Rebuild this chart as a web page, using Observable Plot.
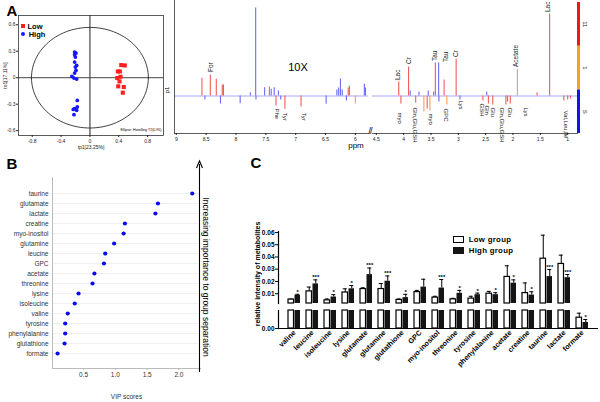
<!DOCTYPE html>
<html><head><meta charset="utf-8">
<script src="https://cdn.jsdelivr.net/npm/d3@7"></script>
<script src="https://cdn.jsdelivr.net/npm/@observablehq/plot@0.6"></script>
<style>
html,body{margin:0;padding:0;background:#fff;}
#root{position:relative;width:600px;height:402px;overflow:hidden;font-family:"Liberation Sans",Arial,sans-serif;}
#root svg{overflow:visible;}
.t{position:absolute;white-space:nowrap;line-height:1;color:#000;}
</style></head><body><div id="root"></div>
<script>
// ---------- Panel A: OPLS-DA scores ----------
const lowT1  = [0.434,0.484,0.387,0.415,0.379,0.424,0.410,0.470,0.392,0.456];
const lowTo  = [0.143,0.139,0.071,0.071,-0.004,0.011,-0.042,-0.106,-0.098,-0.170];
const highT1 = [-0.212,-0.193,-0.212,-0.202,-0.212,-0.184,-0.202,-0.193,-0.212,-0.249,-0.221,-0.184,-0.175,-0.175,-0.212,-0.230,-0.184,-0.221];
const highTo = [0.290,0.279,0.260,0.234,0.177,0.139,0.120,0.082,0.052,0.015,-0.004,-0.016,-0.257,-0.332,-0.351,-0.359,-0.370,-0.419];
const t1Ticks = [-0.8,-0.4,0,0.4,0.8];
const toTicks = [-0.6,-0.3,0,0.3,0.6];
const scoreOrigin = [0];
const ellipseRadii = [0.81, 0.57];

// ---------- Panel A: loadings spectrum ----------
const corrLevels = ["lo","lav","mid","hi"];
const specLeftPpm  = [8.57,8.52,8.43,8.33,8.26,8.23,8.21,7.93,7.76,7.67,7.665,7.52,7.44,7.41,7.36,7.33,7.29,7.25,7.18,6.91,6.49,6.31,6.28,6.25,6.22,6.15,6.12,6.10,6.0,5.85,5.83];
const specLeftInt  = [17.7,-4,21,16.7,-8,11,11,-7.7,3.3,88,-4,8.3,9,6.7,8.3,-10,5,-4,-13.3,-11,-8.3,6,8,17,6,-5,8,10,-8,11.7,8];
const specLeftCorr = ["hi","lo","hi","hi","lo","hi","hi","lo","lo","lo","lo","lo","hi","lo","lo","hi","lo","lo","hi","hi","lo","lo","lo","lo","lo","lo","hi","hi","mid","lo","lo"];
const specRightPpm  = [4.09,4.05,3.91,3.88,3.78,3.72,3.63,3.57,3.55,3.52,3.45,3.42,3.36,3.355,3.26,3.21,3.04,2.97,2.55,2.48,2.45,2.37,2.13,2.10,2.05,1.92,1.56,1.33,1.07,1.00,0.95];
const specRightInt  = [14,-8,29,5,-7,4,-16,-13,5,-15,4,33,33,-6,16,-9,37,-4,-5,4,-8,-9,-9,-6,-8,26.7,3,82,-5,-4,-3];
const specRightCorr = ["hi","hi","hi","lo","hi","lo","mid","hi","lo","mid","lo","hi","lo","lo","hi","mid","hi","lo","hi","lo","hi","hi","hi","hi","hi","lav","hi","hi","hi","hi","hi"];
const specBaseline = [0];
const upLabPpm  = [8.42,4.10,3.91,3.42,3.22,3.04,1.94,1.37];
const upLabText = ["For","Lac","Cr","Tau","Tau","Cr","Acetate","Lac"];
const upLabH    = [24,16,32,35,34,39,29,84];
const downLabPpm  = [7.32,7.18,6.87,4.06,3.79,3.51,3.22,2.96,2.57,2.48,2.36,2.20,2.05,1.76,1.04];
const downLabText = ["Phe","Tyr","Tyr","myo","Gln,Glu,GSH","myo","GPC","Lys","GSH","Gln","Glu","Gln,Glu,GSH","Glu","Lys","Val,Leu,Ile"];
const downLabH    = [-12.5,-16.5,-16.5,-16.5,-11.5,-17.5,-12.5,-4.5,-7.5,-9.5,-11.5,-11.5,-11.5,-11.5,-14.5];
const leftTicks  = [9,8.5,8,7.5,7,6.5,6];
const rightTicks = [4.5,4,3.5,3,2.5,2,1.5,1];
const cbarLevels = ["lo","mid","hi"];
const cbarLabels = ["S","1","11"];

// ---------- Panel B: VIP ----------
const vipNames  = ["taurine","glutamate","lactate","creatine","myo-inositol","glutamine","leucine","GPC","acetate","threonine","lysine","isoleucine","valine","tyrosine","phenylalanine","glutathione","formate"];
const vipScores = [2.21,1.67,1.63,1.15,1.13,0.98,0.84,0.82,0.67,0.64,0.42,0.36,0.25,0.21,0.21,0.20,0.09];
const vipTicks  = [0.5,1.0,1.5,2.0];

// ---------- Panel C: relative intensities ----------
const cNames   = ["valine","leucine","isoleucine","lysine","glutamate","glutamine","glutathione","GPC","myo-inositol","threonine","tyrosine","phenylalanine","acetate","creatine","taurine","lactate","formate"];
const lowMean  = [0.0052,0.0119,0.0046,0.0110,0.0138,0.0138,0.0049,0.0113,0.0068,0.0054,0.0060,0.0100,0.0237,0.0105,0.0386,0.0343,0.0012];
const lowSD    = [0.0004,0.0035,0.0011,0.0030,0.0010,0.0045,0.0008,0.0014,0.0011,0.0008,0.0019,0.0019,0.0091,0.0083,0.0192,0.0072,0.0005];
const highMean = [0.0087,0.0180,0.0073,0.0140,0.0256,0.0202,0.0068,0.0154,0.0146,0.0103,0.0092,0.0092,0.0186,0.0089,0.0240,0.0231,0.00067];
const highSD   = [0.0008,0.0033,0.0019,0.0027,0.0054,0.0043,0.0027,0.0064,0.0070,0.0024,0.0013,0.0016,0.0027,0.0027,0.0058,0.0026,0.00033];
const sig      = ["*","***","*","*","***","***","*","","***","*","*","*","*","*","***","***","*"];
const cUpperDomain = [0.002, 0.0608];
const cLowerDomain = [0, 0.002];
const cUpperTicks = [0.01,0.02,0.03,0.04,0.05,0.06];
const cLowerTicks = [0];
const cBase = [0];

// ---------- helpers ----------
const FONT = '"Liberation Sans", Arial, Helvetica, sans-serif';
const root = document.getElementById("root");
function put(node, left, top){ node.style.position="absolute"; node.style.left=left+"px"; node.style.top=top+"px"; root.appendChild(node); return node; }
function txt(text, cx, cy, css, rot){
  const d=document.createElement("div"); d.className="t"; d.textContent=text;
  Object.assign(d.style, css||{});
  d.style.left=cx+"px"; d.style.top=cy+"px";
  d.style.transform="translate(-50%,-50%)"+(rot?` rotate(${rot}deg)`:"");
  root.appendChild(d); return d;
}
const corrColors = ["#6b6bf6","#a7a1e4","#f5a24a","#f15b5b"];

// ---------- A: scores plot ----------
const pcaLow  = lowT1.map((x,i)=>({x, y: lowTo[i]}));
const pcaHigh = highT1.map((x,i)=>({x, y: highTo[i]}));
const ellipse = d3.range(0, 361, 3).map(a => ({x: ellipseRadii[0]*Math.cos(a*Math.PI/180), y: ellipseRadii[1]*Math.sin(a*Math.PI/180)}));
put(Plot.plot({
  width:170, height:150, marginLeft:18, marginRight:7, marginTop:15, marginBottom:15,
  style:{background:"transparent", fontFamily:FONT, fontSize:"5px", color:"#222", overflow:"visible"},
  x:{domain:[-0.99,1.02]},
  y:{domain:[-0.655,0.705]},
  marks:[
    Plot.ruleX(scoreOrigin, {stroke:"#555", strokeWidth:1.3}),
    Plot.ruleY(scoreOrigin, {stroke:"#444", strokeWidth:1}),
    Plot.line(ellipse, {x:"x", y:"y", stroke:"#111", strokeWidth:0.8}),
    Plot.dot(pcaHigh, {x:"x", y:"y", r:1.9, fill:"#1717ff"}),
    Plot.dot(pcaLow, {x:"x", y:"y", r:2.3, symbol:"square", fill:"#ff1f1f"}),
    Plot.frame({stroke:"#333", strokeWidth:0.8}),
    Plot.axisX({ticks:t1Ticks, tickFormat:d=>String(d), tickSize:2, tickPadding:1.5, label:"tp1[23.25%]", labelAnchor:"center", labelOffset:13, labelArrow:"none"}),
    Plot.axisY({ticks:toTicks, tickFormat:d=>String(d), tickSize:2, tickPadding:1, label:"to1[17.11%]", labelAnchor:"center", labelOffset:15, labelArrow:"none"})
  ]
}), 0, 0);

// ---------- A: spectrum ----------
function specPlot(ppm, ints, corr, ticks, xdomain, width, mLeft, showLeft){
  const peaks = ppm.map((p,i)=>({ppm:p, h:ints[i], corr:corr[i]}));
  const inRange = p => p <= xdomain[0] && p >= xdomain[1];
  const ups = upLabPpm.map((p,i)=>({ppm:p, h:upLabH[i], t:upLabText[i]})).filter(d=>inRange(d.ppm));
  const downs = downLabPpm.map((p,i)=>({ppm:p, h:downLabH[i], t:downLabText[i]})).filter(d=>inRange(d.ppm));
  const marks = [
    Plot.ruleY(specBaseline, {stroke:"#9393f5", strokeWidth:0.8}),
    Plot.ruleX(peaks, {x:"ppm", y1:0, y2:"h", stroke:"corr", strokeWidth:1.1}),
    Plot.text(ups, {x:"ppm", y:"h", text:"t", rotate:-90, textAnchor:"start", fontSize:6.5, fill:"#222"}),
    Plot.text(downs, {x:"ppm", y:"h", text:"t", rotate:90, textAnchor:"start", fontSize:6, fill:"#222"}),
    Plot.frame({anchor:"bottom", stroke:"#333", strokeWidth:0.8}),
    Plot.axisX({ticks, tickFormat:d=>String(d), tickSize:2, tickPadding:1.5, label:null})
  ];
  if (showLeft) marks.push(Plot.frame({anchor:"left", stroke:"#333", strokeWidth:0.8}));
  return Plot.plot({
    width, height:150, marginLeft:mLeft, marginRight:0, marginTop:0, marginBottom:17,
    style:{background:"transparent", fontFamily:FONT, fontSize:"5px", color:"#222", overflow:"visible"},
    x:{domain:xdomain},
    y:{domain:[-37.5,95.5], axis:null},
    color:{domain:corrLevels, range:corrColors},
    marks
  });
}
put(specPlot(specLeftPpm, specLeftInt, specLeftCorr, leftTicks, [9.03,5.78], 208, 14, true), 160, 0);
put(specPlot(specRightPpm, specRightInt, specRightCorr, rightTicks, [4.57,0.82], 209, 4, false), 368, 0);

// colour bar
const cbar = cbarLevels.map((l,i)=>({l, lo:i, hi:i+1, lab:cbarLabels[i]}));
put(Plot.plot({
  width:26, height:140, marginLeft:5, marginRight:18, marginTop:2, marginBottom:7,
  style:{background:"transparent", fontFamily:FONT, fontSize:"6px", color:"#222", overflow:"visible"},
  x:{domain:[0,1], axis:null}, y:{domain:[0,3], axis:null},
  color:{domain:cbarLevels, range:["#1212f2","#f7a21e","#f31616"]},
  marks:[
    Plot.rect(cbar, {x1:0, x2:1, y1:"lo", y2:"hi", fill:"l"}),
    Plot.text(cbar, {x:1, y:d=>(d.lo+d.hi)/2, text:"lab", rotate:90, dx:4, fontSize:6})
  ]
}), 572, 0);

// ---------- B: VIP ----------
const vip = vipNames.map((name,i)=>({name, score:vipScores[i]}));
put(Plot.plot({
  width:215, height:232, marginLeft:52, marginRight:15, marginTop:7, marginBottom:34,
  style:{background:"transparent", fontFamily:FONT, fontSize:"6.5px", color:"#333", overflow:"visible"},
  x:{domain:[0.01,2.34]},
  y:{type:"point", domain:vipNames, padding:0.93},
  marks:[
    Plot.gridY({stroke:"#e4e4e4", strokeOpacity:1, strokeWidth:0.6}),
    Plot.frame({anchor:"left", stroke:"#bbb"}),
    Plot.frame({anchor:"bottom", stroke:"#bbb"}),
    Plot.dot(vip, {x:"score", y:"name", r:2.1, fill:"#0b0bef"}),
    Plot.axisX({ticks:vipTicks, tickFormat:d3.format(".1f"), tickSize:2, tickPadding:2, stroke:"#bbb", label:"VIP scores", labelAnchor:"center", labelOffset:30, labelArrow:"none"}),
    Plot.axisY({tickSize:0, tickPadding:4, label:null})
  ]
}), 0, 170);

// ---------- C: bar chart with broken axis ----------
const cRows = cNames.map((name,i)=>({name, low:lowMean[i], lowTop:lowMean[i]+lowSD[i], high:highMean[i], highTop:highMean[i]+highSD[i], sig:sig[i]}));
const xC = {domain:cNames, paddingInner:0.35, paddingOuter:0.3, label:null};
function cMarks([y0, y1]){
  const lowIn  = cRows.filter(d => d.lowTop > y0 && d.lowTop <= y1);
  const highIn = cRows.filter(d => d.highTop > y0 && d.highTop <= y1);
  const lowBars  = cRows.filter(d => d.low > y0);
  const highBars = cRows.filter(d => d.high > y0);
  return [
    Plot.ruleX(lowIn, {x:"name", y1:d=>Math.max(d.low,y0), y2:"lowTop", dx:-3.25, stroke:"#000", strokeWidth:1}),
    Plot.tickY(lowIn, {x:"name", y:"lowTop", insetLeft:0.75, insetRight:7.25, stroke:"#000", strokeWidth:1}),
    Plot.ruleX(highIn, {x:"name", y1:d=>Math.max(d.high,y0), y2:"highTop", dx:3.25, stroke:"#000", strokeWidth:1}),
    Plot.tickY(highIn, {x:"name", y:"highTop", insetLeft:7.25, insetRight:0.75, stroke:"#000", strokeWidth:1}),
    Plot.rectY(lowBars, {x:"name", y1:y0, y2:d=>Math.min(d.low,y1), insetRight:6.5, fill:"white", stroke:"#000", strokeWidth:1.2}),
    Plot.rectY(highBars, {x:"name", y1:y0, y2:d=>Math.min(d.high,y1), insetLeft:6.5, fill:"#151515"}),
    Plot.text(highIn, {x:"name", y:"highTop", text:"sig", dx:3.25, dy:-0.5, lineAnchor:"bottom", fontSize:6, fontWeight:"bold"}),
    Plot.frame({anchor:"left", stroke:"#000", strokeWidth:1.2})
  ];
}
const cStyle = {background:"transparent", fontFamily:FONT, fontSize:"6.5px", fontWeight:"bold", color:"#000", overflow:"visible"};
put(Plot.plot({
  width:370, height:82, marginLeft:48, marginRight:2, marginTop:9, marginBottom:1,
  style:cStyle,
  x:{...xC, axis:null},
  y:{domain:cUpperDomain},
  marks:[...cMarks(cUpperDomain), Plot.axisY({ticks:cUpperTicks, tickFormat:d3.format(".2f"), tickSize:3, tickPadding:1, label:null})]
}), 230, 222);
put(Plot.plot({
  width:370, height:96, marginLeft:48, marginRight:2, marginTop:4, marginBottom:74,
  style:cStyle,
  x:{...xC, axis:null},
  y:{domain:cLowerDomain},
  marks:[...cMarks(cLowerDomain),
    Plot.ruleY(cBase, {stroke:"#000", strokeWidth:1.2}),
    Plot.axisY({ticks:cLowerTicks, tickFormat:d3.format(".2f"), tickSize:3, tickPadding:1, label:null}),
    Plot.axisX({tickRotate:-45, tickSize:0, tickPadding:3, fontSize:7.2, label:null})]
}), 230, 306);

// ---------- text annotations ----------
const big = {fontSize:"15px", fontWeight:"bold"};
txt("A", 12, 10, big); txt("B", 12, 163, big); txt("C", 256, 162, big);
const sq = document.createElement("div"); Object.assign(sq.style,{width:"4px",height:"4px",background:"#ff1f1f"}); put(sq, 21, 24);
const ci = document.createElement("div"); Object.assign(ci.style,{width:"4px",height:"4px",background:"#1717ff",borderRadius:"50%"}); put(ci, 21, 32);
txt("Low", 35, 26.5, {fontSize:"7.5px", fontWeight:"bold"});
txt("High", 37, 34.5, {fontSize:"7.5px", fontWeight:"bold"});
txt("Ellipse: Hotelling T2(0.95)", 141, 131, {fontSize:"3.6px"});
txt("p1", 167, 90, {fontSize:"6px"}, -90);
txt("10X", 298, 67, {fontSize:"11px"});
txt("ppm", 356, 146, {fontSize:"8px"});
txt("//", 370, 131, {fontSize:"9px", letterSpacing:"-1px"});
const arr = document.createElementNS("http://www.w3.org/2000/svg","svg");
arr.setAttribute("width","10"); arr.setAttribute("height","215");
arr.innerHTML = '<line x1="4.5" y1="4" x2="4.5" y2="212" stroke="#000" stroke-width="1.1"/><path d="M1.5,8 L4.5,1 L7.5,8" fill="none" stroke="#000" stroke-width="1.1"/>';
put(arr, 194.5, 160);
txt("Increasing importance to group separation", 206, 277, {fontSize:"8.5px"}, 90);
txt("relative intensity of metabolites", 257, 274, {fontSize:"7px", fontWeight:"bold"}, -90);
const lb1 = document.createElement("div"); Object.assign(lb1.style,{width:"9px",height:"5px",background:"#fff",border:"1.2px solid #000"}); put(lb1, 453, 236);
const lb2 = document.createElement("div"); Object.assign(lb2.style,{width:"11px",height:"7px",background:"#151515"}); put(lb2, 453, 247);
txt("Low group", 490, 239.5, {fontSize:"7.8px", fontWeight:"bold", letterSpacing:"0.3px"});
txt("High group", 491, 250.5, {fontSize:"7.8px", fontWeight:"bold", letterSpacing:"0.3px"});
</script></body></html>
